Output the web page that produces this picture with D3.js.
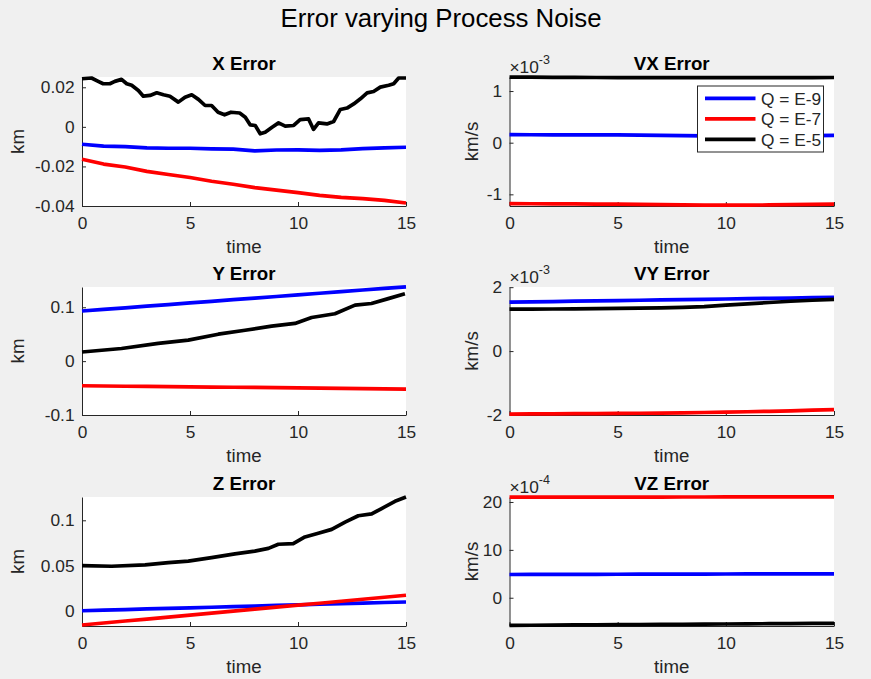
<!DOCTYPE html>
<html><head><meta charset="utf-8">
<script src="https://cdn.jsdelivr.net/npm/d3@7"></script>
<style>
html,body{margin:0;padding:0;background:#f0f0f0;}
svg{display:block;}
text{font-family:"Liberation Sans",Arial,Helvetica,sans-serif;fill:#262626;}
</style></head>
<body><svg id="chart" width="871" height="679"></svg>
<script>
// ---------------- DATA ----------------
const seriesNames = ["Q = E-9", "Q = E-7", "Q = E-5"];
const xTicks = [0, 5, 10, 15];
const T = [0,1,2,3,4,5,6,7,8,9,10,11,12,13,14,15];

// X Error (km)
const xErrE9 = [-0.0088,-0.0097,-0.0100,-0.0106,-0.0108,-0.0108,-0.0111,-0.0113,-0.0121,-0.0117,-0.0116,-0.0119,-0.0116,-0.0110,-0.0106,-0.0103];
const xErrE7 = [-0.0164,-0.0188,-0.0203,-0.0225,-0.0241,-0.0256,-0.0275,-0.0290,-0.0307,-0.0320,-0.0332,-0.0346,-0.0356,-0.0363,-0.0372,-0.0385];
const xErrE5T = [0,0.44,0.75,0.98,1.29,1.52,1.83,2.07,2.3,2.61,2.84,3.15,3.46,3.77,4.07,4.46,4.77,5.08,5.39,5.7,6.0,6.3,6.6,6.9,7.3,7.56,7.79,8.02,8.25,8.48,8.8,9.1,9.41,9.8,10.1,10.49,10.72,10.95,11.34,11.65,11.96,12.27,12.58,12.89,13.2,13.5,13.81,14.2,14.43,14.66,15];
const xErrE5 = [0.0243,0.0247,0.0230,0.0218,0.0218,0.0230,0.0240,0.0218,0.0210,0.0184,0.0155,0.0159,0.0172,0.0162,0.0155,0.0125,0.0150,0.0162,0.0139,0.0108,0.0108,0.0074,0.0061,0.0074,0.0070,0.0049,0.0010,0.0007,-0.0035,-0.0027,-0.0002,0.0020,0.0004,0.0007,0.0037,0.0040,-0.0013,0.0020,0.0015,0.0027,0.0088,0.0095,0.0116,0.0142,0.0172,0.0179,0.0201,0.0210,0.0218,0.0247,0.0247];
const xErrLim = [-0.04, 0.0252];
const xErrTicks = [-0.04, -0.02, 0, 0.02];

// Y Error (km)
const yErrE9 = [0.093,0.096,0.099,0.102,0.105,0.108,0.111,0.114,0.117,0.120,0.123,0.126,0.129,0.132,0.135,0.138];
const yErrE7 = [-0.0457,-0.0462,-0.0466,-0.0470,-0.0473,-0.0477,-0.0481,-0.0485,-0.0489,-0.0493,-0.0498,-0.0502,-0.0507,-0.0511,-0.0515,-0.0520];
const yErrE5T = [0,1.83,3.53,4.92,6.31,7.55,8.78,9.86,10.63,11.71,12.64,13.4,14.18,14.95];
const yErrE5 = [0.017,0.0235,0.033,0.039,0.050,0.0574,0.065,0.070,0.081,0.088,0.104,0.107,0.116,0.125];
const yErrLim = [-0.1, 0.1376];
const yErrTicks = [-0.1, 0, 0.1];

// Z Error (km)
const zErrE9 = [0.0002,0.0009,0.0015,0.0022,0.0028,0.0035,0.0041,0.0048,0.0054,0.0061,0.0067,0.0074,0.0080,0.0087,0.0093,0.0099];
const zErrE7 = [-0.0155,-0.0133,-0.0111,-0.0090,-0.0068,-0.0046,-0.0024,-0.0002,0.0020,0.0042,0.0064,0.0085,0.0107,0.0129,0.0151,0.0173];
const zErrE5T = [0,1.37,2.92,4.0,4.92,6.0,7.08,8.0,8.63,9.09,9.78,10.32,10.94,11.56,12.18,12.79,13.41,13.87,14.49,15];
const zErrE5 = [0.050,0.0493,0.0508,0.0533,0.055,0.0588,0.063,0.066,0.069,0.0736,0.0743,0.0816,0.0857,0.090,0.098,0.105,0.107,0.113,0.121,0.1256];
const zErrLim = [-0.0166, 0.1257];
const zErrTicks = [0, 0.05, 0.1];

// VX Error (km/s)
const vxErrE9 = [0.155e-3,0.154e-3,0.153e-3,0.152e-3,0.151e-3,0.150e-3,0.147e-3,0.143e-3,0.135e-3,0.130e-3,0.130e-3,0.132e-3,0.134e-3,0.136e-3,0.138e-3,0.140e-3];
const vxErrE7 = [-1.180e-3,-1.182e-3,-1.184e-3,-1.186e-3,-1.188e-3,-1.190e-3,-1.195e-3,-1.200e-3,-1.205e-3,-1.208e-3,-1.210e-3,-1.210e-3,-1.205e-3,-1.200e-3,-1.195e-3,-1.190e-3];
const vxErrE5 = [1.270e-3,1.268e-3,1.266e-3,1.264e-3,1.262e-3,1.261e-3,1.260e-3,1.260e-3,1.258e-3,1.258e-3,1.259e-3,1.260e-3,1.260e-3,1.260e-3,1.261e-3,1.262e-3];
const vxErrLim = [-1.226e-3, 1.272e-3];
const vxErrTicks = [-1e-3, 0, 1e-3];

// VY Error (km/s)
const vyErrE9 = [1.53e-3,1.54e-3,1.55e-3,1.56e-3,1.57e-3,1.58e-3,1.59e-3,1.60e-3,1.61e-3,1.62e-3,1.63e-3,1.64e-3,1.65e-3,1.66e-3,1.67e-3,1.685e-3];
const vyErrE7 = [-1.970e-3,-1.966e-3,-1.962e-3,-1.958e-3,-1.954e-3,-1.950e-3,-1.945e-3,-1.940e-3,-1.932e-3,-1.922e-3,-1.910e-3,-1.898e-3,-1.884e-3,-1.868e-3,-1.850e-3,-1.830e-3];
const vyErrE5 = [1.310e-3,1.313e-3,1.317e-3,1.322e-3,1.328e-3,1.335e-3,1.343e-3,1.352e-3,1.370e-3,1.390e-3,1.440e-3,1.480e-3,1.520e-3,1.560e-3,1.590e-3,1.620e-3];
const vyErrLim = [-2.0e-3, 2.005e-3];
const vyErrTicks = [-2e-3, 0, 2e-3];

// VZ Error (km/s)
const vzErrE9 = [4.86e-4,4.87e-4,4.88e-4,4.89e-4,4.90e-4,4.91e-4,4.92e-4,4.93e-4,4.94e-4,4.95e-4,4.96e-4,4.97e-4,4.98e-4,4.99e-4,5.00e-4,5.00e-4];
const vzErrE7 = [21.00e-4,21.00e-4,21.01e-4,21.01e-4,21.02e-4,21.02e-4,21.03e-4,21.03e-4,21.04e-4,21.04e-4,21.05e-4,21.05e-4,21.06e-4,21.06e-4,21.07e-4,21.08e-4];
const vzErrE5 = [-5.76e-4,-5.74e-4,-5.71e-4,-5.68e-4,-5.66e-4,-5.63e-4,-5.60e-4,-5.57e-4,-5.54e-4,-5.51e-4,-5.48e-4,-5.45e-4,-5.42e-4,-5.40e-4,-5.37e-4,-5.35e-4];
const vzErrLim = [-5.9e-4, 21.04e-4];
const vzErrTicks = [0, 10e-4, 20e-4];

// ---------------- LAYOUT / STYLE ----------------
const COLORS = ["#0000ff", "#ff0000", "#000000"];
const FONT_TICK = 17.3, FONT_LABEL = 18.7;
const cols = [[82, 406], [509.5, 834]];
const rows = [[77, 206], [287, 415], [497, 626]];

const panels = [
  {title:"X Error", col:0, row:0, ylabel:"km", lim:xErrLim, ticks:xErrTicks, exp:null,
   series:[[T,xErrE9],[T,xErrE7],[xErrE5T,xErrE5]], fmt:d=>d===0?"0":d.toFixed(2), ylabX:23.5},
  {title:"VX Error", col:1, row:0, ylabel:"km/s", lim:vxErrLim, ticks:vxErrTicks, exp:-3,
   series:[[T,vxErrE9],[T,vxErrE7],[T,vxErrE5]], legend:true, ylabX:478},
  {title:"Y Error", col:0, row:1, ylabel:"km", lim:yErrLim, ticks:yErrTicks, exp:null,
   series:[[T,yErrE9],[T,yErrE7],[yErrE5T,yErrE5]], fmt:d=>d===0?"0":d.toFixed(1), ylabX:23.5},
  {title:"VY Error", col:1, row:1, ylabel:"km/s", lim:vyErrLim, ticks:vyErrTicks, exp:-3,
   series:[[T,vyErrE9],[T,vyErrE7],[T,vyErrE5]], ylabX:478},
  {title:"Z Error", col:0, row:2, ylabel:"km", lim:zErrLim, ticks:zErrTicks, exp:null,
   series:[[T,zErrE9],[T,zErrE7],[zErrE5T,zErrE5]], fmt:d=>d===0?"0":(d===0.1?"0.1":d.toFixed(2)), ylabX:23.5},
  {title:"VZ Error", col:1, row:2, ylabel:"km/s", lim:vzErrLim, ticks:vzErrTicks, exp:-4,
   series:[[T,vzErrE9],[T,vzErrE7],[T,vzErrE5]], ylabX:478}
];

const svg = d3.select("#chart");
svg.append("rect").attr("width",871).attr("height",679).attr("fill","#f0f0f0");

svg.append("text").attr("x", 441).attr("y", 27).attr("text-anchor","middle")
  .style("font-size","25.8px").style("fill","#000").text("Error varying Process Noise");

panels.forEach(p => {
  const [x0, x1] = cols[p.col];
  const [y0, y1] = rows[p.row];
  const xs = d3.scaleLinear().domain([0, 15]).range([x0, x1]);
  const ys = d3.scaleLinear().domain(p.lim).range([y1, y0]);
  const g = svg.append("g");

  g.append("rect").attr("x", x0).attr("y", y0).attr("width", x1 - x0).attr("height", y1 - y0).attr("fill", "#fff");

  const scaleDiv = p.exp === null ? 1 : Math.pow(10, p.exp);
  const yfmt = p.fmt ? p.fmt : (d => String(Math.round(d / scaleDiv)));

  const ax = g.append("g").attr("transform", `translate(0,${y1})`)
    .call(d3.axisBottom(xs).tickValues(xTicks).tickSizeInner(-4).tickSizeOuter(0).tickPadding(11).tickFormat(d3.format("d")));
  const ay = g.append("g").attr("transform", `translate(${x0},0)`)
    .call(d3.axisLeft(ys).tickValues(p.ticks).tickSizeInner(-4).tickSizeOuter(0).tickPadding(7.5).tickFormat(yfmt));
  [ax, ay].forEach(a => {
    a.selectAll("path.domain").attr("stroke", "#262626").attr("stroke-width", 1);
    a.selectAll(".tick line").attr("stroke", "#262626").attr("stroke-width", 1);
    a.selectAll(".tick text").style("font-size", FONT_TICK + "px").style("fill", "#262626")
      .style("font-family", '"Liberation Sans",Arial,Helvetica,sans-serif');
  });

  const line = d3.line().x(d => xs(d[0])).y(d => ys(d[1]));
  p.series.forEach((s, i) => {
    const pts = s[0].map((t, k) => [t, s[1][k]]);
    g.append("path").datum(pts).attr("d", line).attr("fill", "none")
      .attr("stroke", COLORS[i]).attr("stroke-width", 3.7).attr("stroke-linejoin", "round");
  });

  g.append("text").attr("x", (x0 + x1) / 2).attr("y", y0 - 7.5).attr("text-anchor", "middle")
    .style("font-size", FONT_LABEL + "px").style("font-weight", "bold").style("fill", "#000").text(p.title);
  g.append("text").attr("x", (x0 + x1) / 2).attr("y", y1 + 47).attr("text-anchor", "middle")
    .style("font-size", FONT_LABEL + "px").text("time");
  g.append("text").attr("transform", `translate(${p.ylabX},${(y0 + y1) / 2}) rotate(-90)`)
    .attr("text-anchor", "middle").style("font-size", FONT_LABEL + "px").text(p.ylabel);

  if (p.exp !== null) {
    const t = g.append("text").attr("x", x0).attr("y", y0 - 4.5).style("font-size", FONT_TICK + "px");
    t.append("tspan").text("\u00d710");
    t.append("tspan").attr("dy", -9).style("font-size", "12.5px").text(String(p.exp));
  }

  if (p.legend) {
    const lg = g.append("g");
    lg.append("rect").attr("x", 697.5).attr("y", 86).attr("width", 126).attr("height", 66)
      .attr("fill", "#fff").attr("stroke", "#262626").attr("stroke-width", 1);
    const ly = d3.scalePoint().domain(seriesNames).range([98.3, 139.3]);
    seriesNames.forEach((n, i) => {
      lg.append("line").attr("x1", 705).attr("x2", 755.5).attr("y1", ly(n)).attr("y2", ly(n))
        .attr("stroke", COLORS[i]).attr("stroke-width", 3.7);
      lg.append("text").attr("x", 761).attr("y", ly(n)).attr("dy", "0.36em")
        .style("font-size", FONT_TICK + "px").text(n);
    });
  }
});
</script></body></html>
